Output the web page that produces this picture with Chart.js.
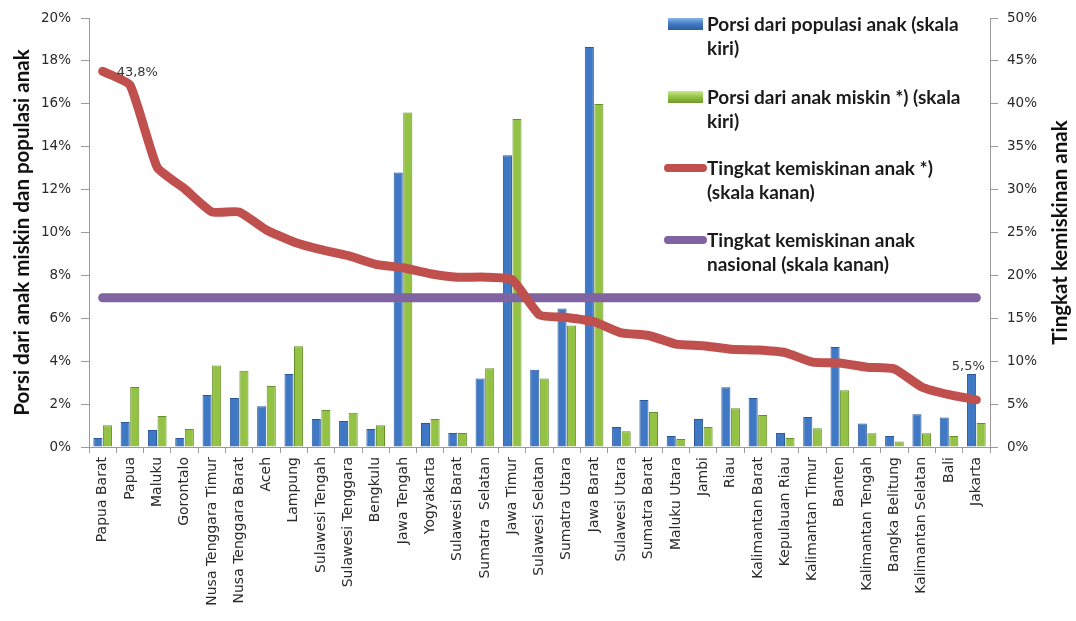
<!DOCTYPE html>
<html>
<head>
<meta charset="utf-8">
<script src="https://cdn.jsdelivr.net/npm/chart.js@4"></script>
<style>
  html, body { margin: 0; padding: 0; background: #fff; }
  #wrap { width: 1076px; height: 621px; position: relative; }
</style>
</head>
<body>
<div id="wrap"><canvas id="chart" width="1076" height="621"></canvas></div>
<script>
// provinces, sorted by child poverty rate
const provinces = ['Papua Barat', 'Papua', 'Maluku', 'Gorontalo', 'Nusa Tenggara Timur', 'Nusa Tenggara Barat',
  'Aceh', 'Lampung', 'Sulawesi Tengah', 'Sulawesi Tenggara', 'Bengkulu', 'Jawa Tengah', 'Yogyakarta',
  'Sulawesi Barat', 'Sumatra  Selatan', 'Jawa Timur', 'Sulawesi Selatan', 'Sumatra Utara', 'Jawa Barat',
  'Sulawesi Utara', 'Sumatra Barat', 'Maluku Utara', 'Jambi', 'Riau', 'Kalimantan Barat', 'Kepulauan Riau',
  'Kalimantan Timur', 'Banten', 'Kalimantan Tengah', 'Bangka Belitung', 'Kalimantan Selatan', 'Bali', 'Jakarta'];

// left scale (%)
const porsiPopulasi = [0.42, 1.16, 0.79, 0.42, 2.42, 2.28, 1.9, 3.4, 1.3, 1.21, 0.84, 12.8, 1.12,
  0.65, 3.2, 13.6, 3.6, 6.46, 18.65, 0.93, 2.19, 0.51, 1.3, 2.79, 2.28, 0.65, 1.4, 4.66, 1.1, 0.51, 1.53, 1.38, 3.4];
const porsiMiskin = [1.02, 2.8, 1.44, 0.84, 3.8, 3.55, 2.84, 4.7, 1.72, 1.6, 1.02, 15.6, 1.3,
  0.65, 3.67, 15.3, 3.2, 5.67, 16.0, 0.74, 1.63, 0.37, 0.93, 1.81, 1.49, 0.42, 0.88, 2.65, 0.64, 0.26, 0.64, 0.51, 1.12];

// right scale (%)
const tingkatKemiskinan = [43.8, 42.2, 32.6, 30.1, 27.4, 27.4, 25.3, 23.9, 23.0, 22.3, 21.3, 20.9, 20.2,
  19.8, 19.8, 19.5, 15.4, 15.1, 14.6, 13.3, 13.0, 12.0, 11.8, 11.4, 11.3, 11.0, 9.9, 9.8, 9.3, 9.1, 7.0, 6.1, 5.5];
const tingkatNasional = [17.4, 17.4, 17.4, 17.4, 17.4, 17.4, 17.4, 17.4, 17.4, 17.4, 17.4, 17.4, 17.4,
  17.4, 17.4, 17.4, 17.4, 17.4, 17.4, 17.4, 17.4, 17.4, 17.4, 17.4, 17.4, 17.4, 17.4, 17.4, 17.4, 17.4, 17.4, 17.4, 17.4];

const leftTicks = [0, 2, 4, 6, 8, 10, 12, 14, 16, 18, 20];
const rightTicks = [0, 5, 10, 15, 20, 25, 30, 35, 40, 45, 50];

const leftTitle = 'Porsi dari anak miskin dan populasi anak';
const rightTitle = 'Tingkat kemiskinan anak';
const legendLines = [
  ['Porsi dari populasi anak (skala', 'kiri)'],
  ['Porsi dari anak miskin *) (skala', 'kiri)'],
  ['Tingkat kemiskinan anak *)', '(skala kanan)'],
  ['Tingkat kemiskinan anak', 'nasional (skala kanan)']
];

const BLUE = '#3f78c4';
const GREEN = '#94c244';
const RED = '#c0504d';
const PURPLE = '#8064a2';

// fmt like 43,8%
function pct(v) {
  return String(v).replace('.', ',') + '%';
}

// titles, legend and the two point labels
const extras = {
  id: 'extras',
  afterDraw(chart) {
    const ctx = chart.ctx;
    const area = chart.chartArea;
    const midY = (area.top + area.bottom) / 2;
    ctx.save();

    // axis titles
    ctx.fillStyle = '#111';
    ctx.font = 'bold 20.5px Lato';
    ctx.textAlign = 'center';
    ctx.textBaseline = 'middle';
    ctx.save();
    ctx.translate(22, midY);
    ctx.rotate(-Math.PI / 2);
    ctx.fillText(leftTitle, 0, 0);
    ctx.restore();
    ctx.save();
    ctx.translate(1060, midY);
    ctx.rotate(-Math.PI / 2);
    ctx.fillText(rightTitle, 0, 0);
    ctx.restore();

    // legend
    const rowsY = [24, 97, 168, 240];
    ctx.font = 'bold 19px Lato';
    ctx.textAlign = 'left';
    rowsY.forEach((y, i) => {
      if (i === 0 || i === 1) {
        const g = ctx.createLinearGradient(0, y - 6, 0, y + 6);
        const c = i === 0 ? BLUE : GREEN;
        g.addColorStop(0, i === 0 ? '#8ab4ea' : '#cde68e');
        g.addColorStop(0.5, c);
        g.addColorStop(1, i === 0 ? '#2f5e9e' : '#6f9a2c');
        ctx.fillStyle = g;
        ctx.fillRect(668, y - 6, 35, 12);
      } else {
        ctx.strokeStyle = i === 2 ? RED : PURPLE;
        ctx.lineWidth = 8;
        ctx.lineCap = 'round';
        ctx.beginPath();
        ctx.moveTo(668, y);
        ctx.lineTo(703, y);
        ctx.stroke();
      }
      ctx.fillStyle = '#1a1a1a';
      legendLines[i].forEach((t, k) => ctx.fillText(t, 707, y + 1 + k * 24));
    });

    // first and last labels on red line
    const pts = chart.getDatasetMeta(2).data;
    ctx.font = '13px DejaVu Sans';
    ctx.fillStyle = '#333';
    const first = pts[0];
    const last = pts[pts.length - 1];
    ctx.textAlign = 'left';
    ctx.fillText(pct(tingkatKemiskinan[0]), first.x + 14, first.y + 1);
    ctx.textAlign = 'center';
    ctx.fillText(pct(tingkatKemiskinan[tingkatKemiskinan.length - 1]), last.x - 8, last.y - 33);
    ctx.restore();
  }
};

const ctx = document.getElementById('chart').getContext('2d');
new Chart(ctx, {
  type: 'bar',
  data: {
    labels: provinces,
    datasets: [
      {
        type: 'bar',
        label: legendLines[0].join(' '),
        data: porsiPopulasi,
        yAxisID: 'yLeft',
        backgroundColor: BLUE,
        borderColor: '#2a5898',
        borderWidth: 1,
        barPercentage: 0.95,
        categoryPercentage: 0.7,
        order: 3
      },
      {
        type: 'bar',
        label: legendLines[1].join(' '),
        data: porsiMiskin,
        yAxisID: 'yLeft',
        backgroundColor: GREEN,
        borderColor: '#66902a',
        borderWidth: 1,
        barPercentage: 0.95,
        categoryPercentage: 0.7,
        order: 3
      },
      {
        type: 'line',
        label: legendLines[2].join(' '),
        data: tingkatKemiskinan,
        yAxisID: 'yRight',
        borderColor: RED,
        borderWidth: 9,
        borderCapStyle: 'round',
        borderJoinStyle: 'round',
        pointRadius: 0,
        tension: 0.15,
        order: 1
      },
      {
        type: 'line',
        label: legendLines[3].join(' '),
        data: tingkatNasional,
        yAxisID: 'yRight',
        borderColor: PURPLE,
        borderWidth: 9,
        borderCapStyle: 'round',
        pointRadius: 0,
        order: 2
      }
    ]
  },
  options: {
    responsive: false,
    animation: false,
    layout: { padding: { top: 10, left: 0, right: 0, bottom: 0 } },
    plugins: {
      legend: { display: false },
      tooltip: { enabled: false }
    },
    scales: {
      x: {
        grid: { display: true, drawOnChartArea: false, offset: true, tickLength: 6, color: '#9a9a9a' },
        border: { color: '#9a9a9a' },
        ticks: {
          autoSkip: false,
          maxRotation: 90,
          minRotation: 90,
          padding: 4,
          color: '#2a2a2a',
          font: { family: 'DejaVu Sans', size: 14 }
        },
        afterFit(scale) { scale.height = 174; }
      },
      yLeft: {
        position: 'left',
        min: 0,
        max: 20,
        afterBuildTicks(scale) { scale.ticks = leftTicks.map(v => ({ value: v })); },
        grid: { drawOnChartArea: false, tickLength: 8, color: '#9a9a9a' },
        border: { color: '#9a9a9a' },
        ticks: {
          padding: 10,
          color: '#2a2a2a',
          font: { family: 'DejaVu Sans', size: 13.5 },
          callback: v => v + '%'
        },
        afterFit(scale) { scale.width = 89; }
      },
      yRight: {
        position: 'right',
        min: 0,
        max: 50,
        afterBuildTicks(scale) { scale.ticks = rightTicks.map(v => ({ value: v })); },
        grid: { drawOnChartArea: false, tickLength: 8, color: '#9a9a9a' },
        border: { color: '#9a9a9a' },
        ticks: {
          padding: 9,
          color: '#2a2a2a',
          font: { family: 'DejaVu Sans', size: 13.5 },
          callback: v => v + '%'
        },
        afterFit(scale) { scale.width = 86; }
      }
    }
  },
  plugins: [extras]
});
</script>
</body>
</html>
